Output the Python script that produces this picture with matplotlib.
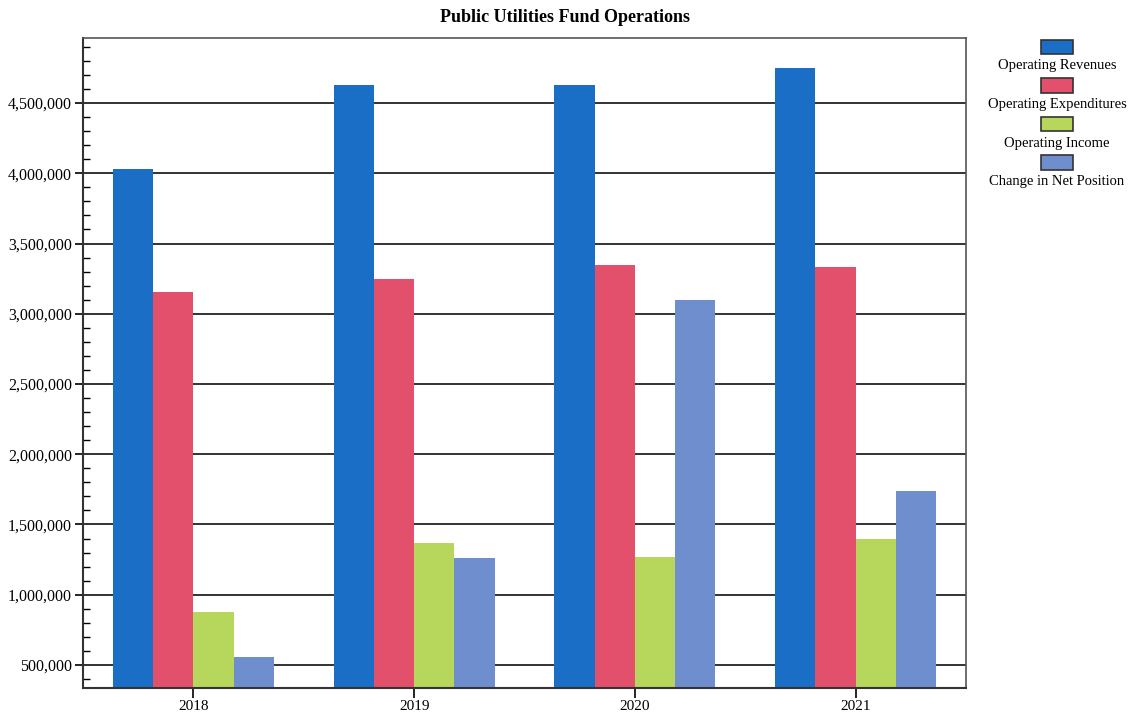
import matplotlib.pyplot as plt
import numpy as np
from matplotlib.patches import Rectangle
from matplotlib.ticker import MultipleLocator, FuncFormatter

years = ['2018', '2019', '2020', '2021']
series = ['Operating Revenues', 'Operating Expenditures', 'Operating Income', 'Change in Net Position']
revenues = [4030000, 4628000, 4628000, 4749000]
expenditures = [3155000, 3247000, 3347000, 3333000]
income = [877000, 1368000, 1269000, 1397000]
net_position = [557000, 1262000, 3098000, 1738000]
colors = ['#1a6ec6', '#e2506b', '#b6d65c', '#6f8ecd']

plt.rcParams['font.family'] = ['Liberation Serif', 'DejaVu Serif']

fig = plt.figure(figsize=(11.3, 7.17), dpi=100)
ax = fig.add_axes([83/1130, 1-688/717, (966-83)/1130, (688-38)/717])

x = np.arange(len(years)) + 0.5
w = 0.1825
data = [revenues, expenditures, income, net_position]
for i, vals in enumerate(data):
    ax.bar(x + (i - 1.5)*w, vals, w, color=colors[i], zorder=2)

ax.set_xlim(0, 4)
ax.set_ylim(336000, 4963000)
ax.set_xticks(x)
ax.set_xticklabels(years, fontsize=11)
ax.yaxis.set_major_locator(MultipleLocator(500000))
ax.yaxis.set_minor_locator(MultipleLocator(100000))
ax.yaxis.set_major_formatter(FuncFormatter(lambda v, p: f'{int(v):,}'))
ax.tick_params(axis='y', which='major', direction='out', length=6, width=1.2, labelsize=11.5, pad=2)
ax.tick_params(axis='y', which='minor', direction='in', length=5, width=1)
ax.tick_params(axis='x', direction='inout', length=14, width=1.2, pad=2)
ax.grid(axis='y', which='major', color='#222222', linewidth=1.3, zorder=1)
for s in ['left', 'bottom']:
    ax.spines[s].set_linewidth(1.5)
    ax.spines[s].set_color('#333333')
for s in ['top', 'right']:
    ax.spines[s].set_linewidth(1.2)
    ax.spines[s].set_color('#555555')

fig.suptitle('Public Utilities Fund Operations', x=0.5, y=1-17/717, va='center',
             fontsize=13, fontweight='bold')

# legend: patch above text, stacked on right
for i, name in enumerate(series):
    top = 40 + i*38.5
    fig.patches.append(Rectangle((1041/1130, 1-(top+14)/717), 32/1130, 14/717,
                                 transform=fig.transFigure, facecolor=colors[i],
                                 edgecolor='#333333', linewidth=1.2))
    fig.text(1057/1130, 1-(top+26)/717, name, ha='center', va='center', fontsize=10.5)

fig.savefig('out.png', dpi=100)
